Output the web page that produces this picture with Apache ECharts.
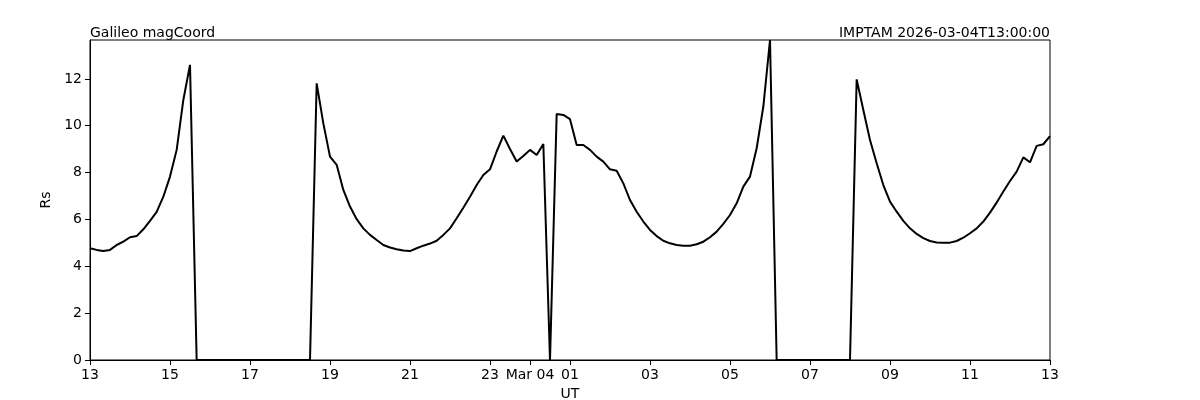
<!DOCTYPE html>
<html>
<head>
<meta charset="utf-8">
<script src="https://cdn.jsdelivr.net/npm/echarts@6/dist/echarts.min.js"></script>
<style>
html,body{margin:0;padding:0;background:#fff;}
#chart{width:1200px;height:400px;}
</style>
</head>
<body>
<div id="chart"></div>
<script>
// Sample times: 10-minute steps, 2026-03-03 13:00 .. 2026-03-04 13:00 (UT)
const startTime = '2026-03-03T13:00:00Z';
const stepMinutes = 10;

// Rs values (10-minute samples)
const rsPart1 = [ // 13:00 - 18:30
  4.77, 4.70, 4.65, 4.70, 4.91, 5.05, 5.24, 5.29, 5.58, 5.94, 6.32, 6.97, 7.83, 8.97, 11.1, 12.6,
  0, 0, 0, 0, 0, 0, 0, 0, 0, 0, 0, 0, 0, 0, 0, 0, 0, 0
];
const rsPart2 = [ // 18:40 - 00:20
  11.81, 10.1, 8.68, 8.33, 7.26, 6.55, 6.01, 5.62, 5.34, 5.12, 4.91, 4.80, 4.73, 4.67, 4.65, 4.77,
  4.88, 4.97, 5.09, 5.34, 5.62, 6.05, 6.50, 6.97, 7.47, 7.90, 8.14, 8.90, 9.58, 9.01, 8.47, 8.71,
  8.97, 8.75, 9.22
];
const rsPart3 = [ // 00:30 - 06:00
  0, 10.50, 10.46, 10.28, 9.18, 9.18, 8.97, 8.68, 8.47, 8.14, 8.08, 7.54, 6.83, 6.33, 5.91, 5.55,
  5.29, 5.09, 4.98, 4.91, 4.88, 4.88, 4.94, 5.05, 5.24, 5.48, 5.81, 6.19, 6.69, 7.40, 7.83, 9.04,
  10.82, 13.66
];
const rsPart4 = [ // 06:10 - 13:00
  0, 0, 0, 0, 0, 0, 0, 0, 0, 0, 0, 0,
  11.98, 10.67, 9.39, 8.40, 7.47, 6.76, 6.33, 5.94, 5.62, 5.38, 5.20, 5.08, 5.02, 5.01, 5.01, 5.08,
  5.22, 5.41, 5.62, 5.91, 6.29, 6.72, 7.19, 7.64, 8.04, 8.65, 8.44, 9.14, 9.21, 9.56
];
const rsValues = rsPart1.concat(rsPart2, rsPart3, rsPart4);

// Tick positions (DD HH:MM of sample) and their labels
const tickTimes = ['03 13:00','03 15:00','03 17:00','03 19:00','03 21:00','03 23:00','04 00:00',
                   '04 01:00','04 03:00','04 05:00','04 07:00','04 09:00','04 11:00','04 13:00'];
const tickLabels = ['13','15','17','19','21','23','Mar 04','01','03','05','07','09','11','13'];
const yTicks = [0, 2, 4, 6, 8, 10, 12];
const yMax = 13.66;

function pad(n){ return (n < 10 ? '0' : '') + n; }
const t0 = Date.parse(startTime);
const categories = rsValues.map(function(_, i){
  const d = new Date(t0 + i * stepMinutes * 60000);
  return pad(d.getUTCDate()) + ' ' + pad(d.getUTCHours()) + ':' + pad(d.getUTCMinutes());
});
const tickMap = {};
tickTimes.forEach(function(t, k){ tickMap[t] = tickLabels[k]; });

const font = 'DejaVu Sans';
const chart = echarts.init(document.getElementById('chart'), null, {renderer: 'canvas'});
chart.setOption({
  animation: false,
  backgroundColor: '#fff',
  title: [
    {text: 'Galileo magCoord', left: 90, top: 26, padding: 0,
     textStyle: {fontFamily: font, fontSize: 14, fontWeight: 'normal', color: '#000'}},
    {text: 'IMPTAM 2026-03-04T13:00:00', right: 150, top: 26, padding: 0,
     textStyle: {fontFamily: font, fontSize: 14, fontWeight: 'normal', color: '#000'}}
  ],
  grid: {left: 90, right: 150, top: 40, bottom: 40, show: true, borderColor: '#000', borderWidth: 1,
         backgroundColor: 'transparent', containLabel: false, outerBoundsMode: 'none'},
  xAxis: {
    type: 'category',
    data: categories,
    boundaryGap: false,
    name: 'UT', nameLocation: 'middle', nameGap: 26,
    nameTextStyle: {fontFamily: font, fontSize: 14, color: '#000'},
    axisLine: {lineStyle: {color: '#000', width: 1}},
    axisTick: {show: true, length: 5, lineStyle: {color: '#000'},
      interval: function(idx, val){ return tickMap.hasOwnProperty(val); }},
    axisLabel: {fontFamily: font, fontSize: 14, color: '#000', margin: 8,
      interval: function(idx, val){ return tickMap.hasOwnProperty(val); },
      formatter: function(val){ return tickMap[val] || ''; }},
    splitLine: {show: false}
  },
  yAxis: {
    type: 'value',
    min: 0, max: yMax, interval: 2,
    name: 'Rs', nameLocation: 'middle', nameGap: 31, nameRotate: 90,
    nameTextStyle: {fontFamily: font, fontSize: 14, color: '#000'},
    axisLine: {show: true, lineStyle: {color: '#000', width: 1}},
    axisTick: {show: true, length: 5, lineStyle: {color: '#000'}, customValues: yTicks},
    axisLabel: {fontFamily: font, fontSize: 14, color: '#000', margin: 8, customValues: yTicks},
    splitLine: {show: false}
  },
  series: [{
    type: 'line',
    data: rsValues,
    showSymbol: false,
    symbol: 'none',
    lineStyle: {color: '#000', width: 2},
    itemStyle: {color: '#000'}
  }]
});
</script>
</body>
</html>
